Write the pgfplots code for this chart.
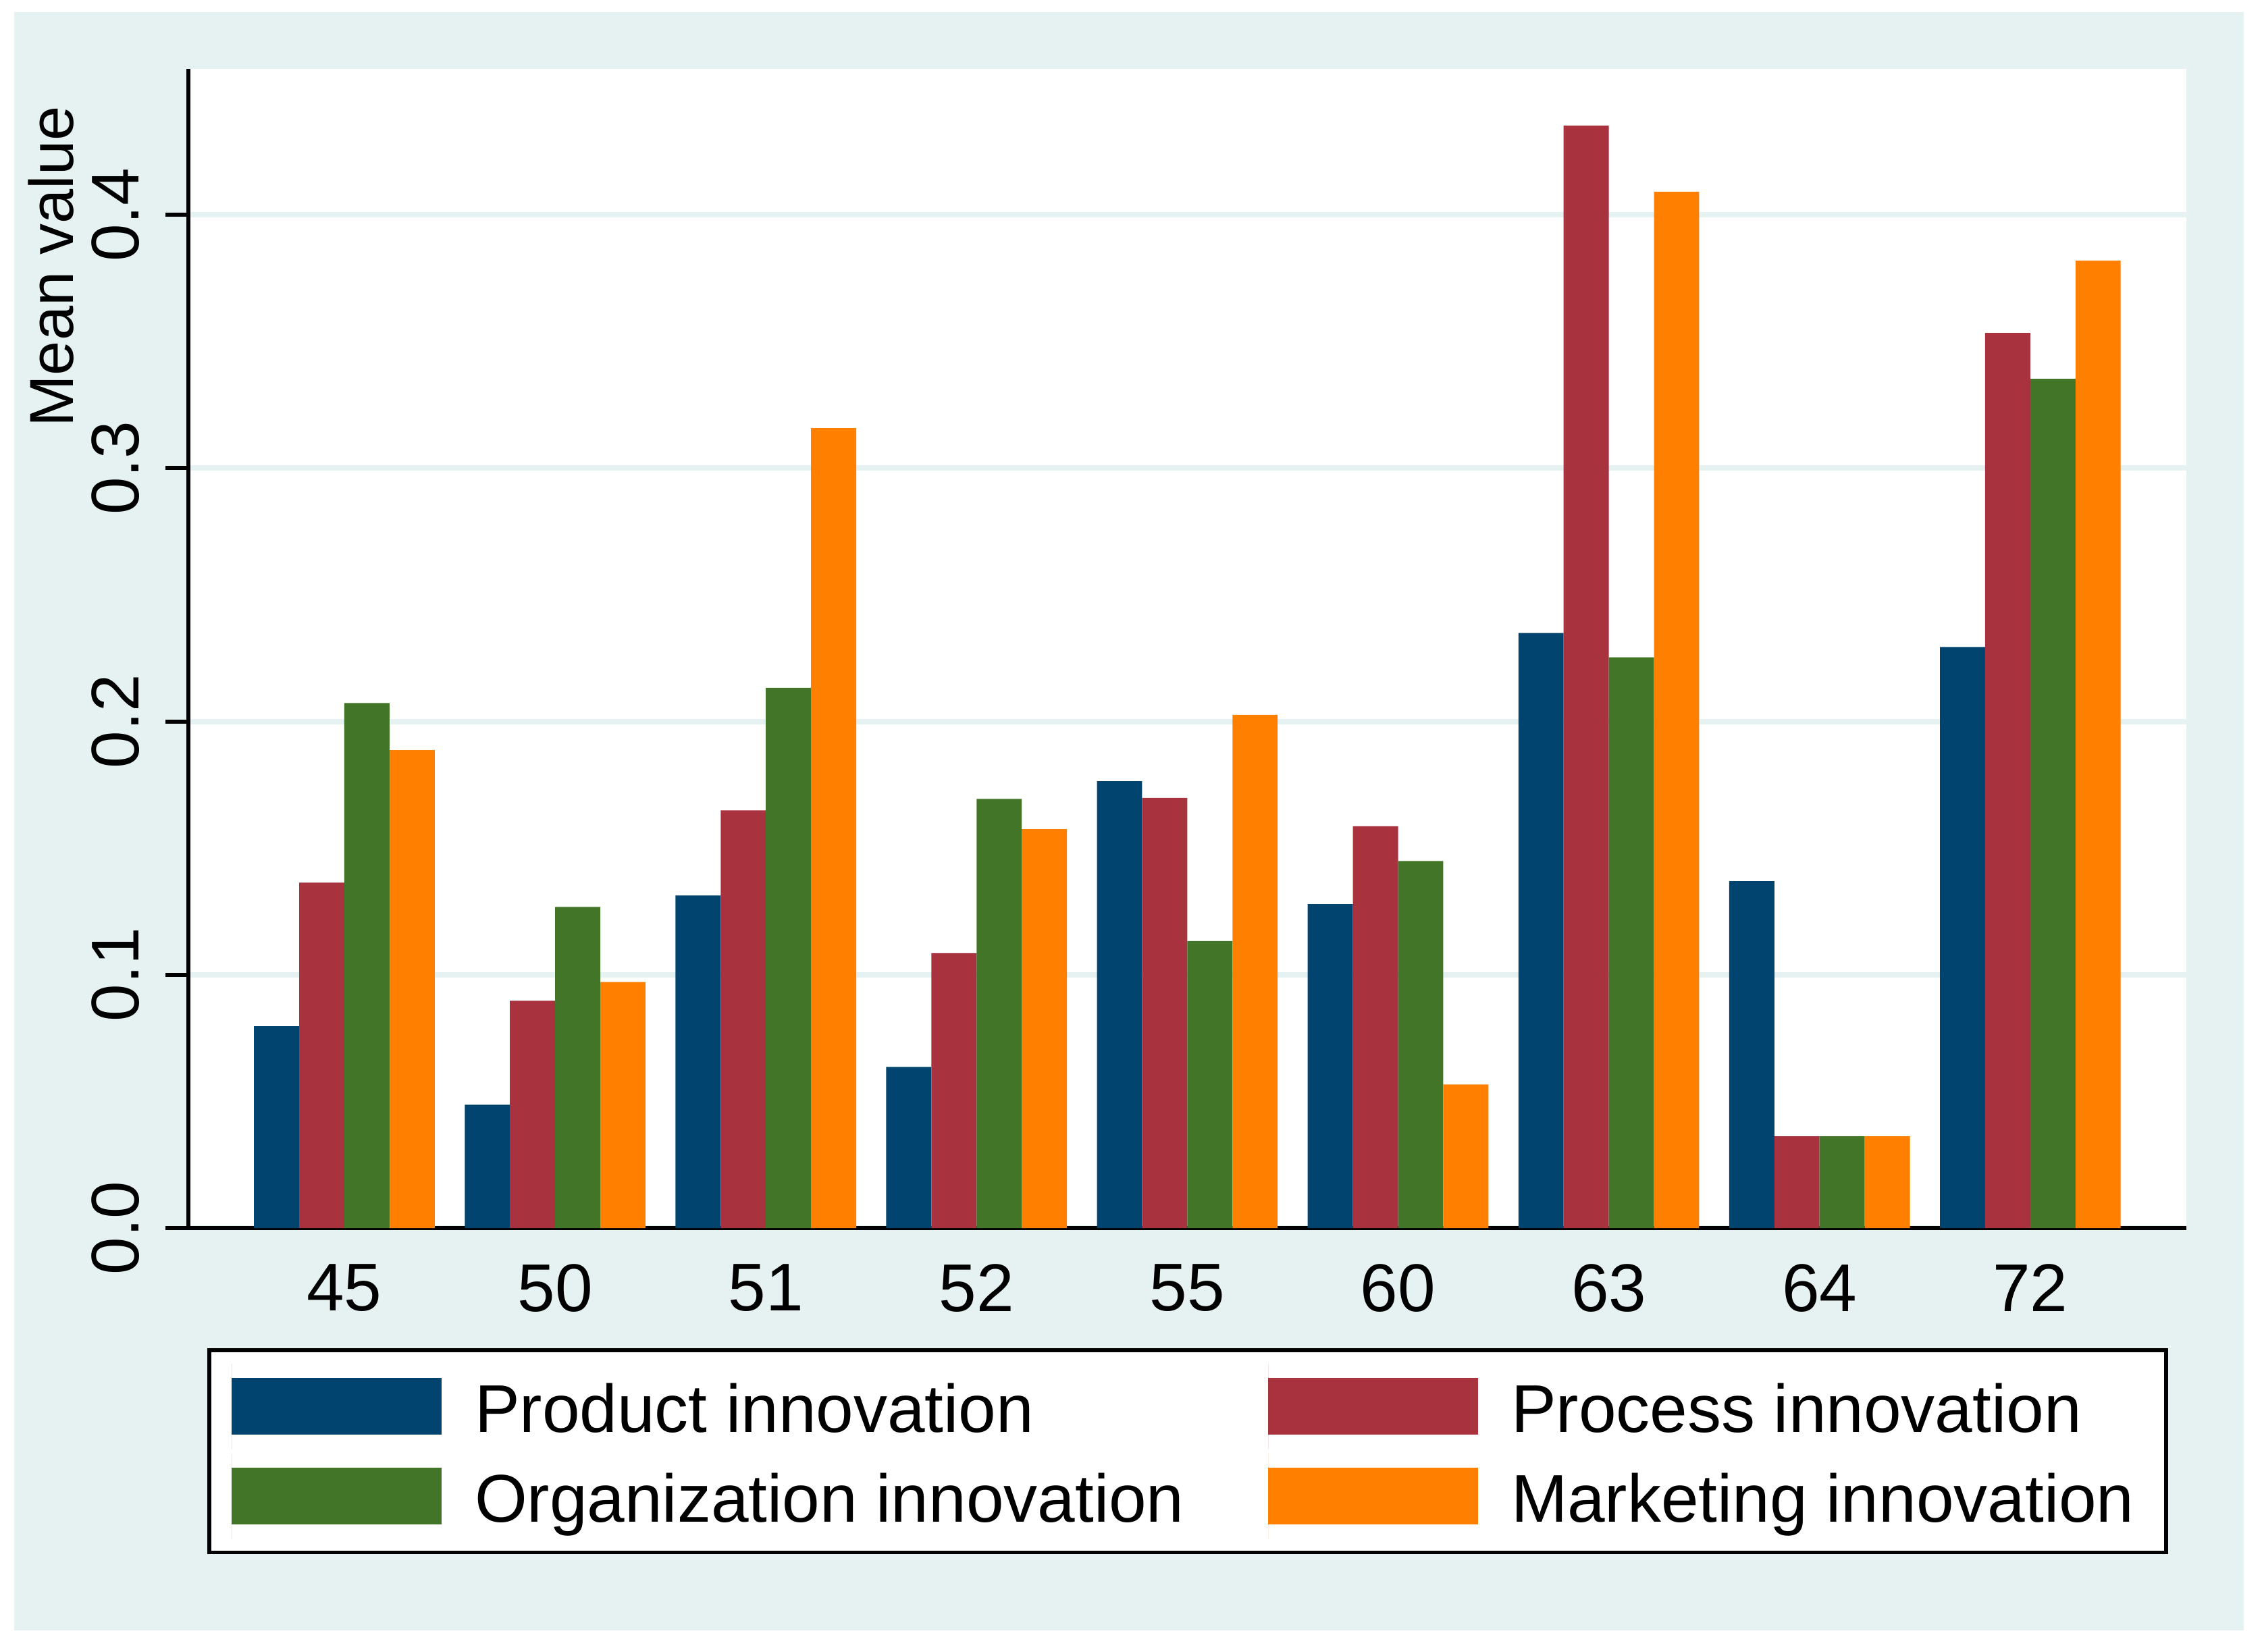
\documentclass[border=0pt]{standalone}
\usepackage{fontspec}
\setmainfont{Liberation Sans}
\usepackage{pgfplots}
\pgfplotsset{compat=1.18}
\definecolor{cblue}{RGB}{1,68,111}
\definecolor{cred}{RGB}{168,50,61}
\definecolor{cgreen}{RGB}{66,117,39}
\definecolor{corange}{RGB}{255,128,0}
\definecolor{bgblue}{RGB}{230,241,241}
\pgfplotsset{mylegimg/.style={legend image code/.code={\fill[##1,draw=none] (0pt,-0.33pt) rectangle (31.1pt,8.07pt); \path (0pt,-2.5pt) -- (0pt,10.17pt);}}}
\begin{document}
\begin{tikzpicture}
\fill[white] (0pt,0pt) rectangle (335pt,244.6pt);
\fill[bgblue] (2.1pt,3.1pt) rectangle (332.3pt,242.8pt);
\begin{axis}[
 at={(27.9pt,62.7pt)}, anchor=south west,
 scale only axis, width=295.9pt, height=171.72pt,
 xmin=-0.7401, xmax=8.7408, ymin=0, ymax=0.4577,
 axis x line*=bottom, axis y line*=left,
 axis line style={-, line width=0.6pt, black},
 axis background/.style={fill=white},
 xtick={0,1,2,3,4,5,6,7,8}, xticklabels={45,50,51,52,55,60,63,64,72},
 ytick={0,0.1,0.2,0.3,0.4}, yticklabels={0.0,0.1,0.2,0.3,0.4},
 tick align=outside, major tick length=3.4pt,
 xtick style={draw=none},
 ytick style={line width=0.6pt, black},
 ymajorgrids, grid style={line width=0.8pt, color=bgblue},
 /pgf/number format/assume math mode=true,
 xticklabel style={font=\fontsize{10}{12}\selectfont, inner sep=0pt, anchor=north},
 xticklabel shift=1.77pt,
 yticklabel style={font=\fontsize{10}{12}\selectfont, rotate=90, anchor=south, inner sep=0pt},
 yticklabel shift=3.7pt,
 ylabel={Mean value},
 every axis y label/.style={at={(axis description cs:-0.0686,0.8293)}, rotate=90, anchor=center, inner sep=0pt, font=\fontsize{9.2}{11}\selectfont},
 legend columns=2,
 legend style={at={(axis description cs:0.01048,-0.1054)}, anchor=north west, outer sep=0pt,
   draw=black, line width=0.54pt, fill=white, inner xsep=3.3pt, inner ysep=2pt,
   row sep=0.63pt, column sep=4.9pt,
   /tikz/every even column/.append style={column sep=0pt},
   font=\fontsize{10}{12}\selectfont,
   cells={anchor=base west},
   nodes={inner sep=0pt, text depth=0pt, anchor=base west}},
]
\addplot[ybar, bar width=0.2144, bar shift=-0.3216, fill=cblue, draw=none, mylegimg] coordinates {
 (0,0.0797) (1,0.0487) (2,0.1313) (3,0.0636) (4,0.1764) (5,0.1279) (6,0.2349) (7,0.1370) (8,0.2294)};
\addlegendentry{\makebox[117.5pt][l]{Product innovation}}
\addplot[ybar, bar width=0.2144, bar shift=-0.1072, fill=cred, draw=none, mylegimg] coordinates {
 (0,0.1364) (1,0.0897) (2,0.1649) (3,0.1085) (4,0.1698) (5,0.1586) (6,0.4352) (7,0.0362) (8,0.3534)};
\addlegendentry{\makebox[93.7pt][l]{Process innovation}}
\addplot[ybar, bar width=0.2144, bar shift=0.1072, fill=cgreen, draw=none, mylegimg] coordinates {
 (0,0.2073) (1,0.1268) (2,0.2133) (3,0.1694) (4,0.1133) (5,0.1449) (6,0.2253) (7,0.0362) (8,0.3353)};
\addlegendentry{\makebox[117.5pt][l]{Organization innovation}}
\addplot[ybar, bar width=0.2144, bar shift=0.3216, fill=corange, draw=none, mylegimg] coordinates {
 (0,0.1887) (1,0.0971) (2,0.3158) (3,0.1575) (4,0.2026) (5,0.0567) (6,0.4091) (7,0.0362) (8,0.3819)};
\addlegendentry{\makebox[93.7pt][l]{Marketing innovation}}
\end{axis}
\end{tikzpicture}
\end{document}
